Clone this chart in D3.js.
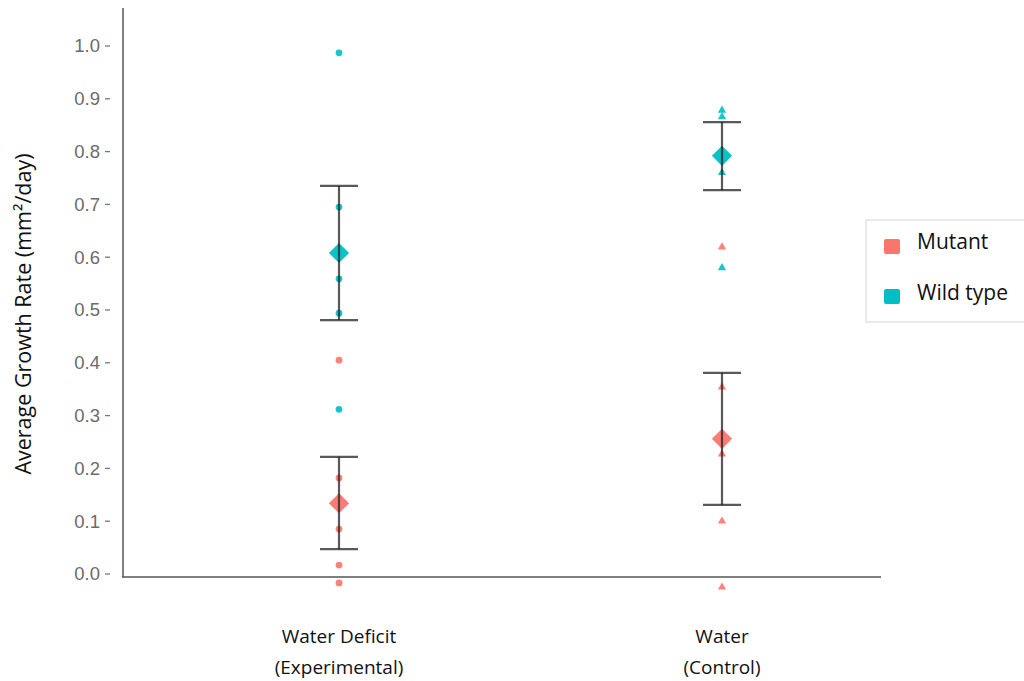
<!DOCTYPE html>
<html>
<head>
<meta charset="utf-8">
<script src="https://cdn.jsdelivr.net/npm/d3@7"></script>
<style>
  html, body { margin: 0; padding: 0; background: #fff; }
  svg { display: block; }
</style>
</head>
<body>
<div id="chart"></div>
<script>
// Categories (x axis) and their two-line labels
const conditions = ['deficit', 'control'];
const conditionLabels = [['Water Deficit', '(Experimental)'], ['Water', '(Control)']];
const genotypes = ['Mutant', 'Wild type'];
const yTicks = [0.0, 0.1, 0.2, 0.3, 0.4, 0.5, 0.6, 0.7, 0.8, 0.9, 1.0];

// Raw observations per condition / genotype
const deficitMutant = [0.405, 0.182, 0.085, 0.017, -0.017];
const deficitWild = [0.987, 0.695, 0.559, 0.494, 0.312];
const controlMutant = [0.619, 0.354, 0.227, 0.100, -0.025];
const controlWild = [0.878, 0.866, 0.760, 0.580];

// Group means and error bar limits
const meanMutant = [0.134, 0.256];
const lowMutant = [0.047, 0.131];
const highMutant = [0.222, 0.381];
const meanWild = [0.608, 0.792];
const lowWild = [0.481, 0.727];
const highWild = [0.735, 0.856];

const colors = { 'Mutant': '#F8766D', 'Wild type': '#00BFC4' };

const width = 1024, height = 681;
const svg = d3.select('#chart').append('svg')
  .attr('width', width)
  .attr('height', height);

const x = d3.scalePoint()
  .domain(conditions)
  .range([339, 722]);

const y = d3.scaleLinear()
  .domain([0, 1])
  .range([574, 46]);

// axis lines
svg.append('line')
  .attr('x1', 123).attr('x2', 123)
  .attr('y1', 8).attr('y2', 577)
  .attr('stroke', '#555').attr('stroke-width', 1.5);

svg.append('line')
  .attr('x1', 122).attr('x2', 881)
  .attr('y1', 577).attr('y2', 577)
  .attr('stroke', '#555').attr('stroke-width', 1.5);

// y ticks (small dashes detached from the axis, as in the original)
const yAxis = svg.append('g').attr('class', 'y-axis');
yAxis.selectAll('line')
  .data(yTicks)
  .enter().append('line')
  .attr('x1', 105).attr('x2', 110)
  .attr('y1', d => y(d)).attr('y2', d => y(d))
  .attr('stroke', '#777').attr('stroke-width', 1.3);

yAxis.selectAll('text')
  .data(yTicks)
  .enter().append('text')
  .attr('x', 100)
  .attr('y', d => y(d))
  .attr('dy', '0.35em')
  .attr('text-anchor', 'end')
  .attr('font-family', 'Liberation Sans, Arial, sans-serif')
  .attr('font-size', 18.5)
  .attr('fill', '#6b6b6b')
  .text(d => d.toFixed(1));

svg.append('text')
  .attr('transform', 'translate(31, 314) rotate(-90)')
  .attr('text-anchor', 'middle')
  .attr('font-family', 'Open Sans, Noto Sans, sans-serif')
  .attr('font-size', 21.5)
  .attr('fill', '#111')
  .text('Average Growth Rate (mm²/day)');

// x labels
const xLab = svg.append('g').attr('class', 'x-labels');
conditions.forEach((c, i) => {
  conditionLabels[i].forEach((line, j) => {
    xLab.append('text')
      .attr('x', x(c))
      .attr('y', 643 + j * 31)
      .attr('text-anchor', 'middle')
      .attr('font-family', 'Open Sans, Noto Sans, sans-serif')
      .attr('font-size', 19)
      .attr('fill', '#111')
      .text(line);
  });
});

// raw points: circles for deficit, triangles for control
const points = [];
deficitMutant.forEach(v => points.push({ c: 'deficit', g: 'Mutant', v }));
deficitWild.forEach(v => points.push({ c: 'deficit', g: 'Wild type', v }));
controlMutant.forEach(v => points.push({ c: 'control', g: 'Mutant', v }));
controlWild.forEach(v => points.push({ c: 'control', g: 'Wild type', v }));

const circleSym = d3.symbol().type(d3.symbolCircle).size(36);
const triSym = d3.symbol().type(d3.symbolTriangle).size(30);

svg.append('g').attr('class', 'points')
  .selectAll('path')
  .data(points)
  .enter().append('path')
  .attr('d', d => d.c === 'deficit' ? circleSym() : triSym())
  .attr('transform', d => `translate(${x(d.c)}, ${y(d.v)})`)
  .attr('fill', d => colors[d.g])
  .attr('opacity', 0.9);

// mean diamonds
const means = [];
conditions.forEach((c, i) => {
  means.push({ c, g: 'Mutant', m: meanMutant[i], lo: lowMutant[i], hi: highMutant[i] });
  means.push({ c, g: 'Wild type', m: meanWild[i], lo: lowWild[i], hi: highWild[i] });
});

svg.append('g').attr('class', 'means')
  .selectAll('path')
  .data(means)
  .enter().append('path')
  .attr('d', d3.symbol().type(d3.symbolDiamond2).size(260)())
  .attr('transform', d => `translate(${x(d.c)}, ${y(d.m)})`)
  .attr('fill', d => colors[d.g])
  .attr('opacity', 0.95);

// error bars
const eb = svg.append('g').attr('class', 'errorbars')
  .attr('stroke', '#222')
  .attr('stroke-opacity', 0.75)
  .attr('stroke-width', 2.2)
  .attr('fill', 'none');

means.forEach(d => {
  const cx = x(d.c);
  eb.append('line').attr('x1', cx).attr('x2', cx).attr('y1', y(d.hi)).attr('y2', y(d.lo));
  eb.append('line').attr('x1', cx - 19).attr('x2', cx + 19).attr('y1', y(d.hi)).attr('y2', y(d.hi));
  eb.append('line').attr('x1', cx - 19).attr('x2', cx + 19).attr('y1', y(d.lo)).attr('y2', y(d.lo));
});

// legend
const legend = svg.append('g').attr('class', 'legend');
legend.append('rect')
  .attr('x', 866).attr('y', 220)
  .attr('width', 170).attr('height', 102)
  .attr('fill', '#fff')
  .attr('stroke', '#e2e2e2').attr('stroke-width', 1.5);

genotypes.forEach((g, i) => {
  legend.append('rect')
    .attr('x', 884).attr('y', 239 + i * 50)
    .attr('width', 16).attr('height', 15)
    .attr('rx', 2)
    .attr('fill', colors[g]);
  legend.append('text')
    .attr('x', 917).attr('y', 242 + i * 51)
    .attr('dy', '0.35em')
    .attr('font-family', 'Open Sans, Noto Sans, sans-serif')
    .attr('font-size', 21)
    .attr('fill', '#111')
    .text(g);
});
</script>
</body>
</html>
